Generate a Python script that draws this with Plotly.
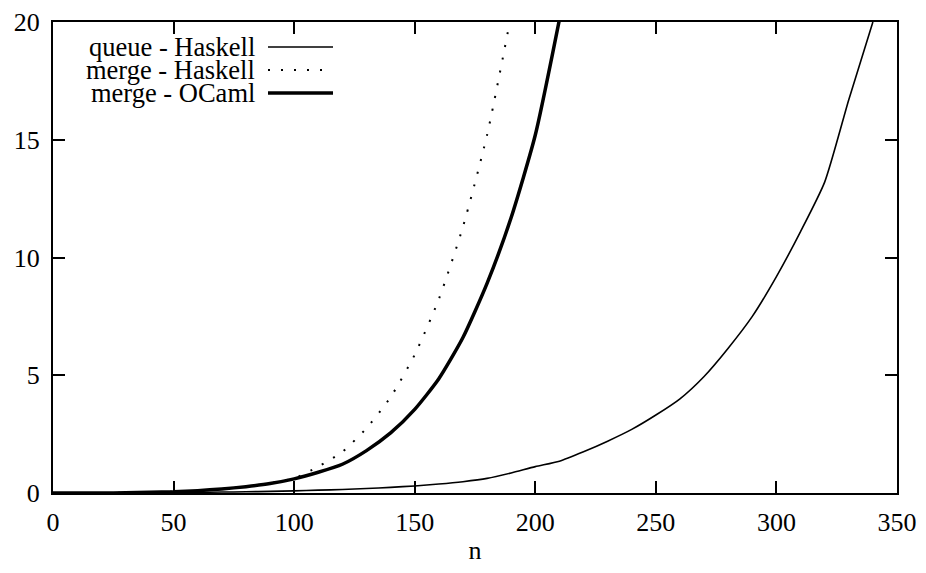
import plotly.graph_objects as go

# ---- data ----
n_queue = [0, 10, 20, 30, 40, 50, 60, 70, 80, 90, 100, 110, 120, 130, 140, 150, 160, 170,
           180, 190, 200, 210, 220, 230, 240, 250, 260, 270, 280, 290, 300, 310, 320, 330, 340]
t_queue_haskell = [0, 0, 0, 0.01, 0.01, 0.02, 0.03, 0.04, 0.05, 0.07, 0.09, 0.12, 0.15, 0.19,
                   0.24, 0.30, 0.38, 0.48, 0.62, 0.85, 1.12, 1.35, 1.75, 2.2, 2.7, 3.31, 4.0,
                   4.95, 6.15, 7.5, 9.19, 11.1, 13.2, 16.7, 20.0]

n_merge_hs = [0, 10, 20, 30, 40, 50, 60, 70, 80, 90, 100, 110, 120, 130, 140, 150, 160, 170, 180, 190]
t_merge_haskell = [0, 0, 0, 0.01, 0.03, 0.06, 0.1, 0.17, 0.28, 0.42, 0.62, 1.12, 1.75, 2.75,
                   4.07, 5.87, 8.23, 11.3, 15.2, 20.3]

n_merge_ml = [0, 10, 20, 30, 40, 50, 60, 70, 80, 90, 100, 110, 120, 130, 140, 150, 160, 170, 180, 190, 200, 210]
t_merge_ocaml = [0, 0, 0, 0.01, 0.03, 0.05, 0.1, 0.17, 0.27, 0.4, 0.6, 0.88, 1.22, 1.8, 2.55,
                 3.55, 4.85, 6.6, 8.9, 11.7, 15.2, 20.1]

legend_labels = ["queue - Haskell", "merge - Haskell", "merge - OCaml"]
x_ticks = [0, 50, 100, 150, 200, 250, 300, 350]
y_ticks = [0, 5, 10, 15, 20]

FONT = "Liberation Serif, Times New Roman, serif"
# page has an 8px body margin; figure sized to fit inside the 926x573 window
W, H = 910, 557
ML, MR, MT, MB = 45, 21, 14, 72
OFF = 8  # page offset of the figure

fig = go.Figure()
fig.add_trace(go.Scatter(x=n_queue, y=t_queue_haskell, mode="lines", name=legend_labels[0],
                         line=dict(color="black", width=1.6, shape="spline", smoothing=0.6)))
fig.add_trace(go.Scatter(x=n_merge_hs, y=t_merge_haskell, mode="lines", name=legend_labels[1],
                         line=dict(color="black", width=2, dash="2px,11px", shape="spline", smoothing=0.6)))
fig.add_trace(go.Scatter(x=n_merge_ml, y=t_merge_ocaml, mode="lines", name=legend_labels[2],
                         line=dict(color="black", width=3.5, shape="spline", smoothing=0.6)))

# manual gnuplot-style legend: text right-aligned, sample line to the right
pw, ph = W - ML - MR, H - MT - MB
def px2x(px):
    return (px - OFF - ML) / pw
def py2y(py):
    return (H - MB - (py - OFF)) / ph

rows_y = [47, 70, 93]
styles = [dict(width=1.6), dict(width=2, dash="2px,11px"), dict(width=3.5)]
for lab, ry, st in zip(legend_labels, rows_y, styles):
    fig.add_annotation(x=px2x(257), y=py2y(ry), xref="paper", yref="paper", text=lab,
                       showarrow=False, xanchor="right", yanchor="middle",
                       font=dict(family=FONT, size=26.5, color="black"))
    fig.add_shape(type="line", xref="paper", yref="paper",
                  x0=px2x(268), x1=px2x(333), y0=py2y(ry), y1=py2y(ry),
                  line=dict(color="black", **st))

axis_common = dict(showgrid=False, zeroline=False, showline=True, linecolor="black", linewidth=2,
                   mirror="ticks", ticks="inside", ticklen=12, tickwidth=2, tickcolor="black",
                   automargin=False,
                   tickfont=dict(family=FONT, size=26, color="black"))
fig.update_xaxes(range=[0, 350], tickvals=x_ticks, ticklabelstandoff=5,
                 title=dict(text="n", font=dict(family=FONT, size=26, color="black"), standoff=5),
                 **axis_common)
fig.update_yaxes(range=[0, 20], tickvals=y_ticks, ticklabelstandoff=6, **axis_common)

fig.update_layout(width=W, height=H, margin=dict(l=ML, r=MR, t=MT, b=MB),
                  plot_bgcolor="white", paper_bgcolor="white", showlegend=False,
                  font=dict(family=FONT, color="black"))
fig.write_html("out.html")
